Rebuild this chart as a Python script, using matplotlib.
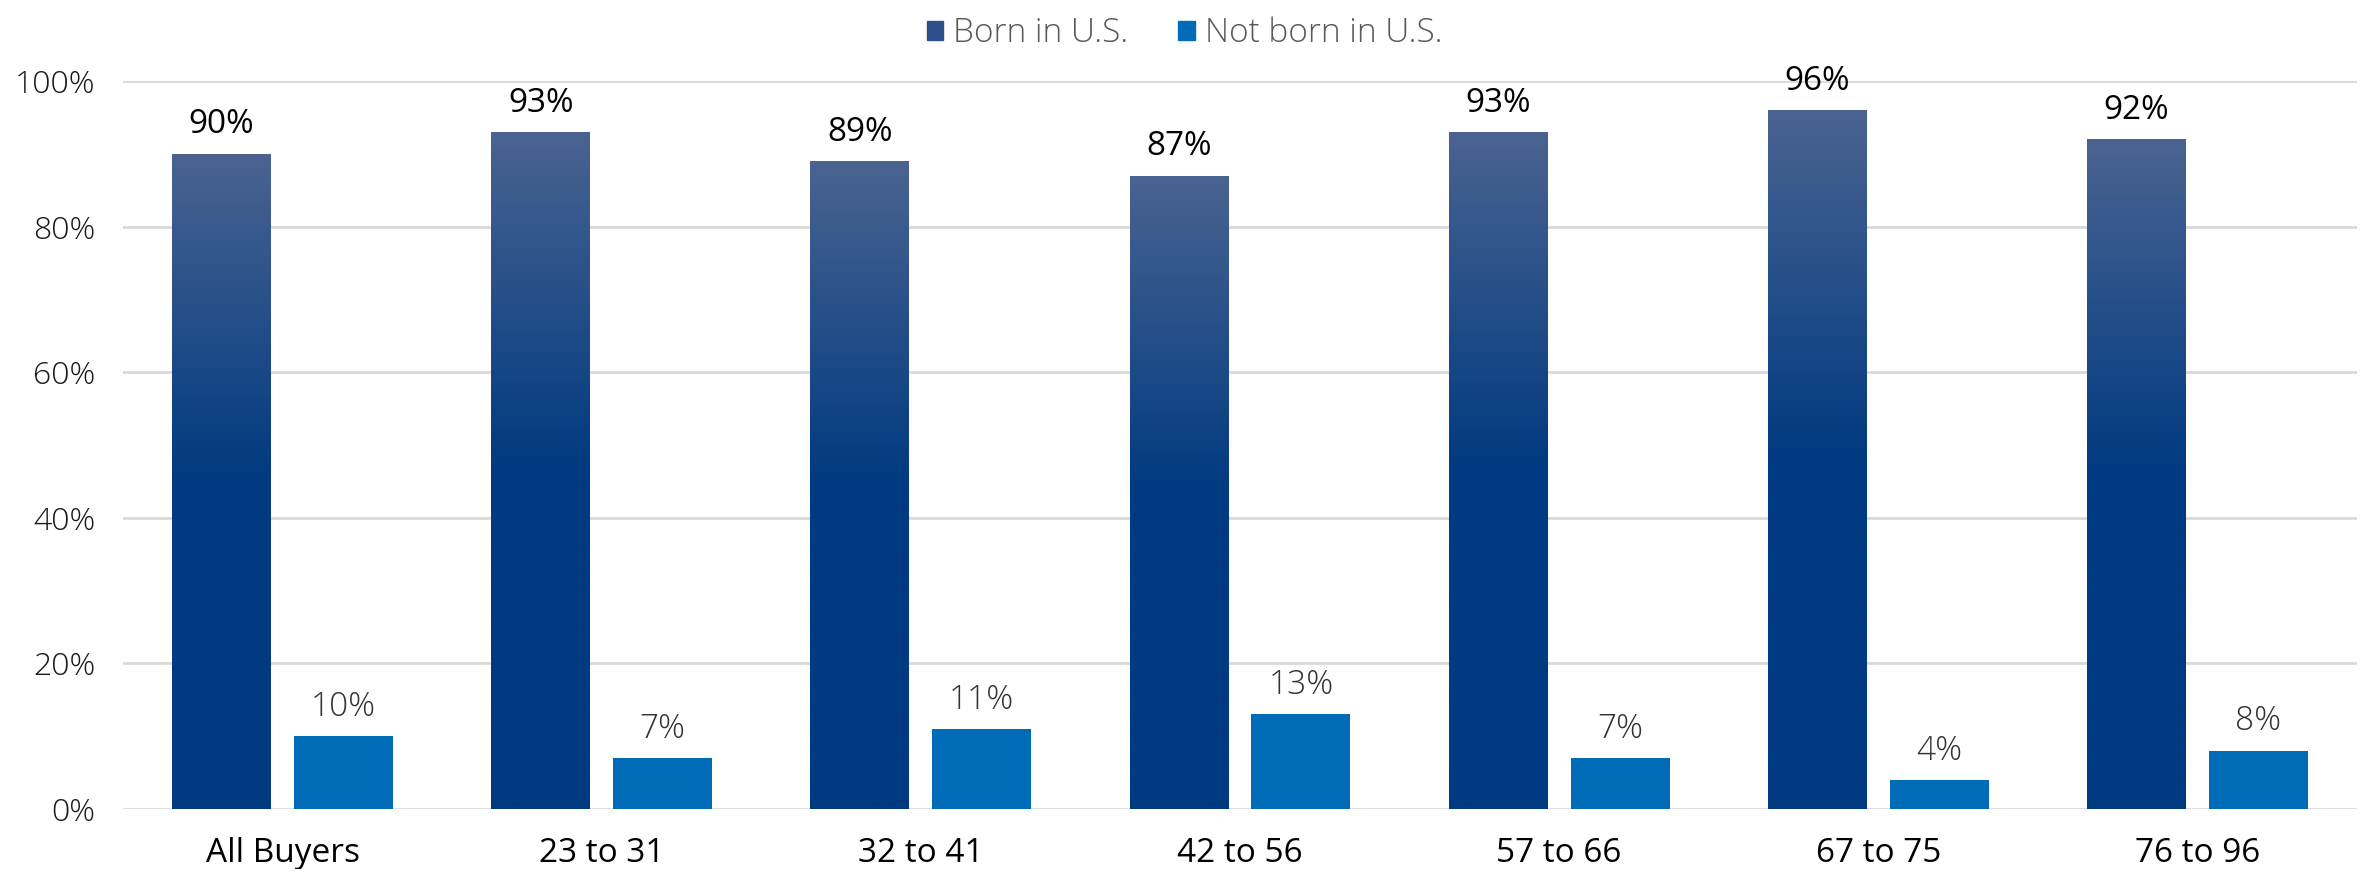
import matplotlib.pyplot as plt
import numpy as np
from matplotlib.colors import LinearSegmentedColormap
from matplotlib.patches import Patch

# donnees
categories = ['All Buyers', '23 to 31', '32 to 41', '42 to 56', '57 to 66', '67 to 75', '76 to 96']
born_us = [90, 93, 89, 87, 93, 96, 92]
not_born_us = [10, 7, 11, 13, 7, 4, 8]
series_names = ['Born in U.S.', 'Not born in U.S.']

plt.rcParams['font.family'] = ['Open Sans', 'DejaVu Sans']

fig = plt.figure(figsize=(23.69, 8.69), dpi=100)
ax = fig.add_axes([123/2369, 1-809/869, (2357-123)/2369, (809-81)/869])

x = np.arange(len(categories))
w = 0.31
off = 0.191
dark_top = '#4a6391'
dark_bot = '#003a80'
light = '#006bb6'

cmap = LinearSegmentedColormap.from_list('bleu', [dark_bot, dark_bot, dark_top])
grad = np.linspace(0, 1, 256).reshape(-1, 1)

bars1 = ax.bar(x - off, born_us, w, color='none', zorder=3)
for b in bars1:
    # degrade vertical dans chaque barre
    x0, h = b.get_x(), b.get_height()
    im = ax.imshow(grad, cmap=cmap, aspect='auto', origin='lower',
                   extent=[x0, x0 + w, 0, h], zorder=3)
    im.set_clip_path(b)
bars2 = ax.bar(x + off, not_born_us, w, color=light, zorder=3)

for b, v in zip(bars1, born_us):
    ax.text(b.get_x() + w/2, v + 1.7, f'{v}%', ha='center', va='bottom',
            fontsize=24, color='black')
for b, v in zip(bars2, not_born_us):
    ax.text(b.get_x() + w/2, v + 1.7, f'{v}%', ha='center', va='bottom',
            fontsize=24, color='#333333', fontweight='light')

ax.set_xlim(-0.5, len(categories) - 0.5)
ax.set_ylim(0, 100)
ax.set_yticks(range(0, 101, 20))
ax.set_yticklabels([f'{t}%' for t in range(0, 101, 20)], fontsize=23,
                   color='#1a1a1a', fontweight='light')
ax.set_xticks(x)
ax.set_xticklabels(categories, fontsize=24, color='black')
ax.tick_params(axis='both', length=0)
ax.tick_params(axis='y', pad=20)
ax.tick_params(axis='x', pad=20)
ax.grid(axis='y', color='#d9d9d9', linewidth=2, zorder=0)
for s in ax.spines.values():
    s.set_visible(False)

handles = [Patch(color='#2d4f8a'), Patch(color=light)]
fig.legend(handles, series_names, loc='upper center', bbox_to_anchor=(0.5, 1.015),
           ncol=2, frameon=False, handlelength=0.5, handleheight=0.5,
           handletextpad=0.3, columnspacing=1.5,
           prop={'size': 24, 'weight': 'light'}, labelcolor='#595959')

fig.savefig('out.png', dpi=100)
